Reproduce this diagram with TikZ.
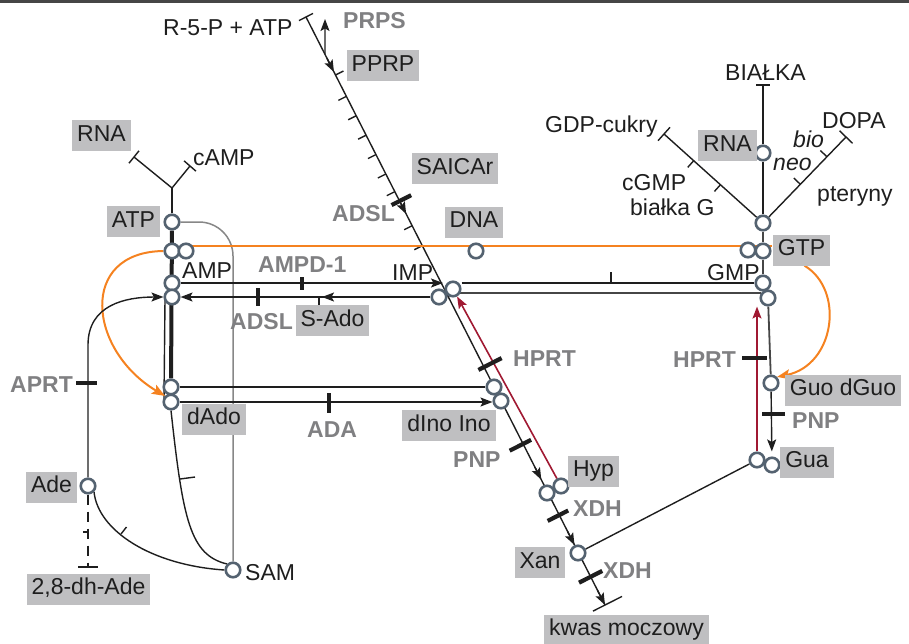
\documentclass[tikz,border=0pt]{standalone}
\usepackage{fontspec}
\setmainfont{Liberation Sans}
\usetikzlibrary{arrows.meta,calc}
\pgfdeclarelayer{bg}
\pgfsetlayers{bg,main}

\definecolor{boxgray}{RGB}{191,191,193}
\definecolor{enzgray}{RGB}{128,128,130}
\definecolor{circ}{RGB}{84,98,112}
\definecolor{inkblack}{RGB}{30,30,30}
\definecolor{orangeln}{RGB}{245,130,32}
\definecolor{redln}{RGB}{160,25,50}
\definecolor{grayln}{RGB}{135,135,135}
\definecolor{darkln}{RGB}{70,70,70}

\tikzset{
  every node/.style={font=\fontsize{23}{27}\selectfont},
  txt/.style={inner sep=0pt, text=inkblack},
  enz/.style={inner sep=0pt, text=enzgray, font=\fontsize{23}{27}\selectfont\bfseries},
  box/.style={fill=boxgray, inner xsep=5pt, inner ysep=5pt, text height=16pt, text depth=5pt, text=inkblack},
  pt/.style={circle, draw=circ, fill=white, line width=2.6pt, minimum size=14.5pt, inner sep=0pt},
  ln/.style={line width=1.4pt, draw=inkblack},
  darkline/.style={line width=1.8pt, draw=darkln},
  heavy/.style={line width=4pt, draw=inkblack},
  ebar/.style={line width=4.2pt, draw=inkblack},
  orangepath/.style={line width=2pt, draw=orangeln},
  redpath/.style={line width=1.6pt, draw=redln},
  graypath/.style={line width=1.5pt, draw=grayln},
  arr/.style={-{Stealth[length=12pt,width=9pt,inset=2.5pt]}},
  arro/.style={-{Stealth[length=13pt,width=10pt,inset=2.5pt]}},
}

% helpers along the main purine line from (S) to (E)
\newcommand\diagtick[2]{\draw[ln] ($(S)!#1!(E)$) -- ++(#2);}
\newcommand\diagbar[3]{\draw[ebar] ($(S)!#1!(E)+(-0.892*#2,0.452*#2)$) -- ($(S)!#1!(E)+(0.892*#3,-0.452*#3)$);}
\newcommand\diagarrow[2]{\draw[ln,arr] ($(S)!#1!(E)$) -- ($(S)!#2!(E)$);}

\begin{document}
\begin{tikzpicture}[x=1pt,y=-1pt]
\useasboundingbox (0,0) rectangle (909,643);

% ---------- metabolite junctions ----------
\node[pt] (atp)   at (172,222) {};
\node[pt] (ampo1) at (172,251) {};
\node[pt] (ampo2) at (186,251) {};
\node[pt] (amp1)  at (172,283) {};
\node[pt] (amp2)  at (172,297) {};
\node[pt] (dado1) at (171,387) {};
\node[pt] (dado2) at (171,402) {};
\node[pt] (ade)   at (88,486) {};
\node[pt] (sam)   at (233,570) {};
\node[pt] (dnac)  at (476,251) {};
\node[pt] (impa)  at (439,297) {};
\node[pt] (impb)  at (453,289) {};
\node[pt] (dino1) at (494,387) {};
\node[pt] (dino2) at (501,401) {};
\node[pt] (hypa)  at (547,493) {};
\node[pt] (hypb)  at (561,486) {};
\node[pt] (xanc)  at (578,553) {};
\node[pt] (gtp0)  at (763,223) {};
\node[pt] (gtpL)  at (748,250) {};
\node[pt] (gtpR)  at (763,251) {};
\node[pt] (gmp1)  at (763,283) {};
\node[pt] (gmp2)  at (768,298) {};
\node[pt] (guo)   at (771,383) {};
\node[pt] (guaL)  at (757,460) {};
\node[pt] (guaR)  at (772,465) {};
\node[pt] (rnaR)  at (763,153) {};

% ---------- shaded metabolite boxes ----------
\node[box] (bRNAa)   at (101.5,135.5) {RNA};
\node[box] (bATP)    at (133.5,221.5) {ATP};
\node[box] (bPPRP)   at (383,65.5) {PPRP};
\node[box] (bSAICAr) at (455,168.5) {SAICAr};
\node[box] (bDNA)    at (474,222) {DNA};
\node[box] (bSAdo)   at (332.5,320.5) {S-Ado};
\node[box] (bdAdo)   at (214,419) {dAdo};
\node[box] (bdIno)   at (449,425.5) {dIno Ino};
\node[box] (bHyp)    at (593.5,471) {Hyp};
\node[box] (bXan)    at (540,562.5) {Xan};
\node[box] (bKwas)   at (626.5,630) {kwas moczowy};
\node[box] (bAde)    at (51.5,487) {Ade};
\node[box] (bDhAde)  at (88.5,589) {2,8-dh-Ade};
\node[box] (bRNAb)   at (727.5,145.5) {RNA};
\node[box] (bGTP)    at (801.5,250) {GTP};
\node[box] (bGuo)    at (843,390) {Guo dGuo};
\node[box] (bGua)    at (807,462) {Gua};

% ---------- plain labels ----------
\node[txt, anchor=base west] (tR5P)   at (163,35)  {R-5-P + ATP};
\node[txt, anchor=base west] (tcAMP)  at (193,165) {cAMP};
\node[txt, anchor=base west] (tAMP)   at (182,278) {AMP};
\node[txt, anchor=base west] (tIMP)   at (392,280) {IMP};
\node[txt, anchor=base west] (tGMP)   at (707,280) {GMP};
\node[txt, anchor=base west] (tSAM)   at (245,580) {SAM};
\node[txt, anchor=base west] (tBialka) at (725,80) {BIAŁKA};
\node[txt, anchor=base west] (tGDP)   at (545,132) {GDP-cukry};
\node[txt, anchor=base west] (tcGMP)  at (622,190) {cGMP};
\node[txt, anchor=base west] (tbG)    at (630,215) {białka G};
\node[txt, anchor=base west] (tDOPA)  at (822,128) {DOPA};
\node[txt, anchor=base west] (tPter)  at (817,201) {pteryny};
\node[txt, anchor=base west] (tBio)   at (793,147) {\itshape bio};
\node[txt, anchor=base west] (tNeo)   at (773,170) {\itshape neo};

% ---------- enzyme labels ----------
\node[enz, anchor=base west] (ePRPS)  at (343,28)  {PRPS};
\node[enz, anchor=base west] (eAMPD)  at (258,272) {AMPD-1};
\node[enz, anchor=base west] (eADSLa) at (332,221) {ADSL};
\node[enz, anchor=base west] (eADSLb) at (230,329) {ADSL};
\node[enz, anchor=base west] (eADA)   at (307,437) {ADA};
\node[enz, anchor=base west] (eAPRT)  at (10,392)  {APRT};
\node[enz, anchor=base west] (eHPRTa) at (513,366) {HPRT};
\node[enz, anchor=base west] (ePNPa)  at (453,467) {PNP};
\node[enz, anchor=base west] (eXDHa)  at (573,516) {XDH};
\node[enz, anchor=base west] (eXDHb)  at (603,578) {XDH};
\node[enz, anchor=base west] (eHPRTb) at (673,367) {HPRT};
\node[enz, anchor=base west] (ePNPb)  at (792,428) {PNP};

% ---------- connectors (behind nodes) ----------
\begin{pgfonlayer}{bg}
  % top rule
  \coordinate (ruleL) at (0,1.5);
  \coordinate (ruleR) at (909,1.5);
  \draw[line width=2.5pt, draw=darkln] (ruleL) -- (ruleR);

  % de novo line R-5-P -> IMP -> ... -> uric acid
  \coordinate (S) at (306,17);
  \coordinate (E) at (605,605);
  \draw[ln] (S) -- (E);
  \draw[ln] ($(S)+(-7,3.6)$) -- ($(S)+(7,-3.6)$);
  \draw[ln] ($(E)+(-12,6.1)$) -- ($(E)+(17,-8.6)$);
  \coordinate (prpsFoot) at ($(S)!0.0636!(E)$);
  \coordinate (prpsTip) at (325,19);
  \draw[ln,arr] (prpsFoot) -- (prpsTip);
  \diagarrow{0.07}{0.0935}
  \diagtick{0.0986}{8,-4}
  \foreach \t in {0.135,0.168,0.201,0.234,0.267,0.297,0.355,0.389}
    {\diagtick{\t}{-8,4}}
  \diagbar{0.313}{9}{13}
  \diagarrow{0.315}{0.335}
  \diagarrow{0.765}{0.787}
  \diagbar{0.726}{15}{9}
  \diagbar{0.847}{13}{10}
  \diagarrow{0.875}{0.898}
  \diagbar{0.952}{13}{13}
  \diagarrow{0.975}{1}

  % salvage HPRT (red) into IMP
  \draw[redpath,arr] (hypb) -- (impb);
  \draw[ebar] (478.4,369.9) -- (501.6,358.1);

  % ATP branches
  \coordinate (fork) at (172,188);
  \coordinate (rnaEnd) at (134,157);
  \coordinate (campEnd) at (190,166);
  \draw[ln] (atp) -- (fork);
  \draw[ln] (rnaEnd) -- (fork) -- (campEnd);
  \draw[ln] ($(rnaEnd)+(5,-6.2)$) -- ($(rnaEnd)+(-5,6.2)$);
  \draw[ln] ($(campEnd)+(6,5.2)$) -- ($(campEnd)+(-6,-5.2)$);

  % adenine nucleotide column
  \draw[heavy] (atp) -- (dado1);
  \draw[ln] ($(amp2)+(-7,3)$) -- ($(dado2)+(-7,-3)$);
  \draw[graypath, rounded corners=34pt] (atp) -| (sam);

  % AMP <-> IMP
  \coordinate (impTip) at (443,283);
  \draw[ln,arr] (amp1) -- (impTip);
  \draw[ebar] (302,277) -- (302,290);
  \draw[ln,arr] (impa) -- (amp2);
  \draw[ln,arr] (334,297) -- (322,297);
  \draw[ln] (319,297) -- (319,306);
  \draw[ebar] (258,288) -- (258,306);

  % IMP -> GMP
  \draw[ln] (impb.east |- gmp1) -- (gmp1);
  \draw[ln] (611,283) -- (611,272);
  \coordinate (gmpLow) at (761,293);
  \draw[darkline] (impb.south east |- gmpLow) -- (gmpLow);

  % dAdo -> dIno/Ino
  \draw[ln] (dado1) -- (dino1);
  \draw[ln,arr] (dado2) -- (dado2 -| dino2.west);
  \draw[ebar] (329,393) -- (329,413);

  % orange: ATP/GTP level and its two arcs
  \coordinate (orL) at (186,246);
  \coordinate (orR) at (772,246);
  \draw[orangepath] (orL) -- (orR);
  \draw[orangepath,arro] (ampo1.west) .. controls (78,252) and (88,350) .. (dado2.north west);
  \draw[orangepath,arro] ($(bGTP.south)+(3,0)$) .. controls (845,290) and (835,365) .. (guo.north east);

  % adenine salvage and degradation
  \coordinate (adeTurn) at (88,345);
  \draw[ln,arr] (ade.north) -- (adeTurn) .. controls (88,305) and (125,297) .. (amp2.west);
  \draw[ebar] (76,383) -- (97,383);
  \coordinate (dhEnd) at (88,567);
  \draw[ln, dash pattern=on 10pt off 7pt] (ade.south) -- (dhEnd);
  \draw[ln] ($(dhEnd)+(-10,0)$) -- ($(dhEnd)+(10,0)$);
  \draw[ln] (88,532) -- (83,532);
  \draw[ln] (ade.south east) .. controls (98,530) and (150,565) .. (sam.west);
  \draw[ln] (121,534) -- (126.5,527);
  \draw[ln] (dado2.south) .. controls (183,520) and (190,555) .. (sam.north west);
  \draw[ln] (180,479) -- (195,477);

  % guanine nucleotides
  \draw[darkline] (gtp0) -- (gtpR) -- (gmp1);
  \draw[darkline] (gmp2) -- (guo);
  \draw[ln,arr,shorten >=5pt] (guo) -- (guaR);
  \draw[ebar] (762,414) -- (785,414);
  \draw[redpath,arr] (guaL) -- (guaL |- gmp2.south);
  \draw[ebar] (742,358) -- (767,358);
  \draw[ln] (xanc) -- (guaL);

  % GTP fan
  \coordinate (bialEnd) at (763,85);
  \draw[ln] (gtp0) -- (rnaR) -- (bialEnd);
  \draw[ln] ($(bialEnd)+(-7,0)$) -- ($(bialEnd)+(7,0)$);
  \coordinate (gdpEnd) at (664,134);
  \draw[ln] (gtp0) -- (gdpEnd);
  \draw[ln] ($(gdpEnd)+(6,-6.7)$) -- ($(gdpEnd)+(-6,6.7)$);
  \draw[ln] ($(gtp0)!0.43!(gdpEnd)$) -- ++(-6,6.7);
  \draw[ln] ($(gtp0)!0.70!(gdpEnd)$) -- ++(-6,6.7);
  \coordinate (dopaEnd) at (846,137);
  \draw[ln] (gtp0) -- (dopaEnd);
  \draw[ln] ($(dopaEnd)+(6.5,6.25)$) -- ($(dopaEnd)+(-6.5,-6.25)$);
  \draw[ln] ($(gtp0)!0.45!(dopaEnd)$) -- ++(-6.5,-6.25);
  \draw[ln] ($(gtp0)!0.77!(dopaEnd)$) -- ++(-6.5,-6.25);
\end{pgfonlayer}
\end{tikzpicture}
\end{document}
